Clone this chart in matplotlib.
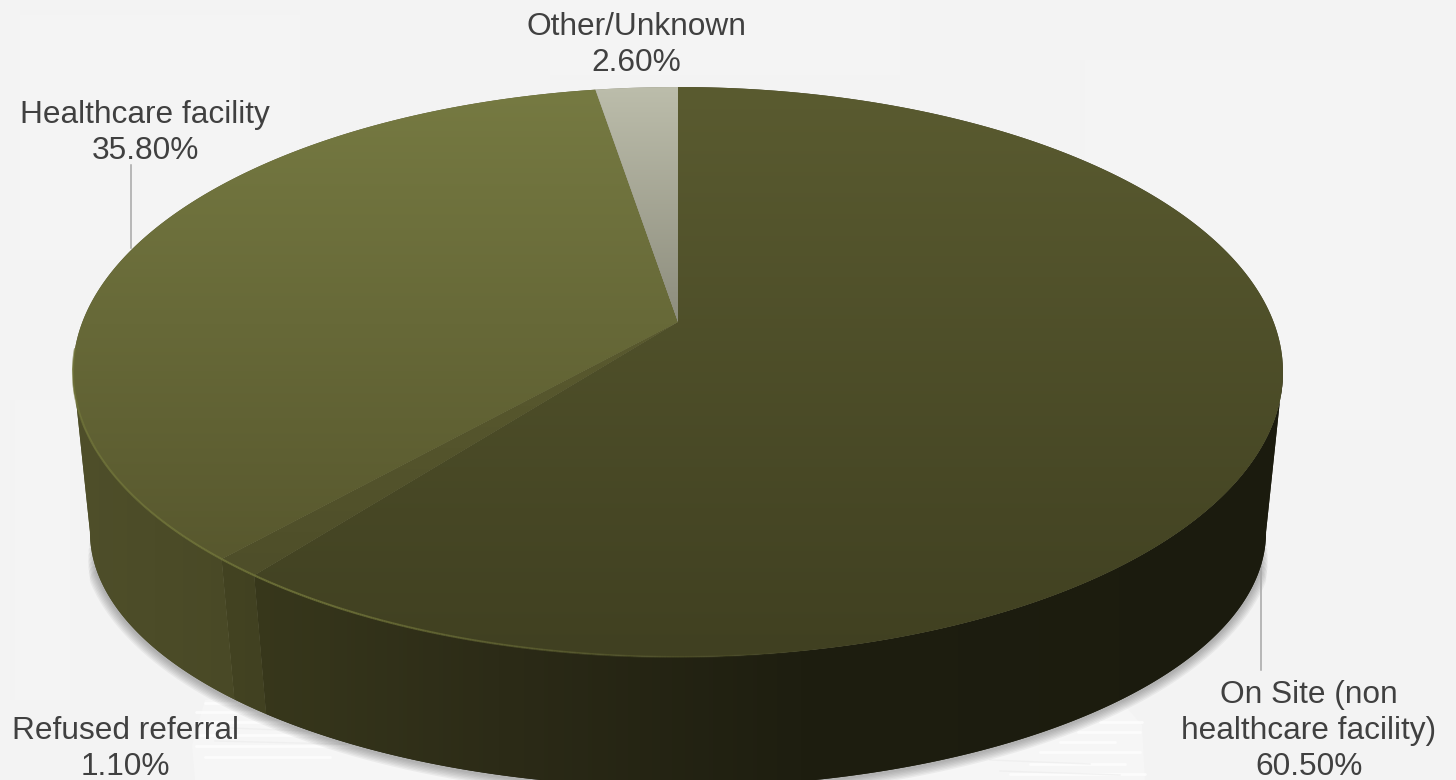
import numpy as np
import matplotlib
matplotlib.use("Agg")
import matplotlib.pyplot as plt
from matplotlib.collections import LineCollection
from matplotlib.colors import LinearSegmentedColormap
from matplotlib.patches import Polygon

plt.rcParams['font.family'] = ['Liberation Sans', 'DejaVu Sans']

labels = ["On Site (non\nhealthcare facility)", "Refused referral", "Healthcare facility", "Other/Unknown"]
shares = [60.5, 1.1, 35.8, 2.6]

# slices run clockwise from 12 o'clock, so the order above is the drawing order
top_colors = [("#5a5b30", "#404021"), ("#5a5a2f", "#4e4e29"), ("#767a42", "#58582e"), ("#bcbdab", "#8d8d7d")]
wall_stops = [
    [(250, "#38381c"), (500, "#2c2b17"), (800, "#1e1e10"), (1280, "#1b1b0e")],
    [(220, "#434322"), (270, "#414121")],
    [(70, "#4f4f2a"), (240, "#494926")],
    [(590, "#44442a"), (680, "#44442a")],
]

# pie projection, in pixels
CX, CY = 678, 322
A, B, K = 595.6, 276.2, 0.1754
TOP_MID = 372
LOW_MID = 532
X_SCALE = 0.972
Y_SCALE = 0.895
# the wall is only seen between the two side tangents of the rim
WALL_FROM, WALL_TO = np.radians(100.1), np.radians(259.9)

W, H = 1456, 780
fig = plt.figure(figsize=(W / 100, H / 100), dpi=100, facecolor="#f3f3f3")
ax = fig.add_axes([0, 0, 1, 1])
ax.set_xlim(0, W)
ax.set_ylim(H, 0)
ax.axis("off")


def project(theta):
    # theta in radians, clockwise from the top of the pie
    u = np.sin(theta)
    v = np.cos(theta)
    d = 1 + K * v
    return CX + A * u / d, CY - B * v / d


def drop(x, y):
    # same point on the lower rim of the pie
    return CX + (x - CX) * X_SCALE, LOW_MID + (y - TOP_MID) * Y_SCALE


def fill_gradient(path_xy, stops, horizontal, zorder):
    xs, ys = path_xy[:, 0], path_xy[:, 1]
    # flat underlay keeps the seams between clipped pieces closed
    ax.add_patch(Polygon(path_xy, closed=True, fc=stops[len(stops) // 2][1], ec="none", zorder=zorder - 0.001))
    poly = Polygon(path_xy, closed=True, fc="none", ec="none", transform=ax.transData)
    ax.add_patch(poly)
    lo, hi = stops[0][0], stops[-1][0]
    cmap = LinearSegmentedColormap.from_list(
        "g", [((p - lo) / (hi - lo), c) for p, c in stops])
    ramp = np.linspace(0, 1, 256)
    if horizontal:
        img = ax.imshow(ramp[None, :], cmap=cmap, extent=(lo, hi, ys.max() + 1, ys.min() - 1),
                        aspect="auto", zorder=zorder)
    else:
        img = ax.imshow(ramp[:, None], cmap=cmap, extent=(xs.min() - 1, xs.max() + 1, hi, lo),
                        aspect="auto", zorder=zorder)
    img.set_clip_path(poly)
    ax.set_xlim(0, W)
    ax.set_ylim(H, 0)


# soft lighter panels in the backdrop
for x0, x1, y0, y1 in [(20, 300, 15, 260), (550, 900, 0, 75), (1085, 1380, 60, 430), (15, 70, 400, 700)]:
    ax.add_patch(Polygon([(x0, y0), (x1, y0), (x1, y1), (x0, y1)], fc="#f4f4f4", ec="none", zorder=0))

# brushed strokes under the pie
ax.add_patch(Polygon([(205, 700), (250, 695), (1120, 700), (1142, 725), (1145, 780), (195, 780), (192, 745)],
                     fc="#f6f6f6", ec="none", zorder=0.5))
for y, x0, x1 in [(703, 205, 250), (712, 196, 262), (722, 195, 290), (735, 198, 330), (746, 196, 365),
                  (757, 205, 330), (722, 1100, 1142), (732, 1078, 1140), (742, 1060, 1115),
                  (752, 1040, 1140), (764, 1030, 1125), (774, 1010, 1145)]:
    ax.plot([x0, x1], [y, y], color="#ffffff", lw=2.0, alpha=0.7, zorder=0.6, solid_capstyle="round")
for y, x0, x1 in [(728, 230, 330), (741, 215, 380), (760, 990, 1090), (771, 1000, 1120)]:
    ax.plot([x0, x1], [y, y + 4], color="#ededed", lw=1.0, alpha=0.7, zorder=0.6)

# shadow along the lower rim, wide strokes stop earlier so it tapers up the sides
t_all = np.linspace(WALL_FROM + 0.02, WALL_TO - 0.02, 500)
rx, ry = drop(*project(t_all))
sx, sy = project(np.array([WALL_FROM + 0.15, WALL_TO - 0.15]))
shadow_x = np.r_[CX + (sx[0] - CX) * 0.995, rx, CX + (sx[1] - CX) * 0.995]
shadow_y = np.r_[sy[0] + 70, ry, sy[1] + 70]
for lw in np.arange(2, 15, 2):
    cut = 1 + int(lw * 2)
    ax.plot(shadow_x[cut:-cut], shadow_y[cut:-cut] + 1.5, color="#3a3a3a", lw=lw, alpha=0.06,
            zorder=1, solid_capstyle="round")

edges = np.cumsum([0] + shares) / 100 * 2 * np.pi

# side walls
for i in range(len(shares)):
    t0, t1 = max(edges[i], WALL_FROM), min(edges[i + 1], WALL_TO)
    if t0 >= t1:
        continue
    t = np.linspace(t0, t1, 240)
    tx, ty = project(t)
    bx, by = drop(tx, ty)
    wall = np.column_stack([np.r_[tx, bx[::-1]], np.r_[ty, by[::-1]]])
    fill_gradient(wall, wall_stops[i], True, 2 + i * 0.01)

# top faces
for i in range(len(shares)):
    t = np.linspace(edges[i], edges[i + 1], 240)
    tx, ty = project(t)
    face = np.column_stack([np.r_[CX, tx], np.r_[CY, ty]])
    c0, c1 = top_colors[i]
    y0, y1 = min(ty.min(), CY), max(ty.max(), CY)
    fill_gradient(face, [(y0, c0), (y1, c1)], False, 3 + i * 0.01)

# lit rim on the front of the top face
t = np.linspace(np.pi * 0.9, np.pi * 1.47, 500)
tx, ty = project(t)
pts = np.column_stack([tx, ty])
segs = np.stack([pts[:-1], pts[1:]], axis=1)
fade = np.clip((820 - tx[:-1]) / 500, 0, 1)
rim_rgb = matplotlib.colors.to_rgb("#71753a")
ax.add_collection(LineCollection(segs, colors=[(*rim_rgb, 0.85 * f) for f in fade], linewidths=1.5, zorder=4))

# leader lines
ax.plot([131, 131], [165, 248], color="#a6a6a6", lw=1.1, zorder=1.5)
ax.plot([1260.5, 1260.5], [555, 670], color="#a6a6a6", lw=1.1, zorder=1.5)

# labels
label_pos = [(1309, 731), (125, 749), (145, 133), (636, 45)]
for name, share, (x, y) in zip(labels, shares, label_pos):
    ax.text(x, y, f"{name}\n{share:.2f}%", ha="center", va="center", multialignment="center",
            fontsize=22.8, color="#404040", linespacing=1.26, zorder=6)

fig.savefig("out.png", dpi=100, facecolor=fig.get_facecolor())
